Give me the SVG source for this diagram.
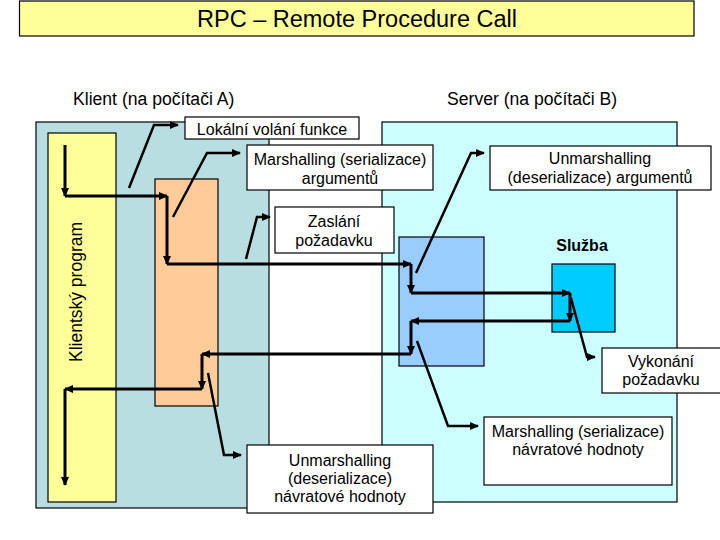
<svg xmlns="http://www.w3.org/2000/svg" width="720" height="540" viewBox="0 0 720 540">
<defs>
<style>
text{font-family:"Liberation Sans",Arial,sans-serif;fill:#000}
.lbl{font-size:16px;text-anchor:middle}
.box{stroke:#000;stroke-width:1.2}
.main{stroke:#000;stroke-width:3;fill:none;marker-end:url(#ah)}
.call{stroke:#000;stroke-width:2.5;fill:none;stroke-linejoin:miter;marker-end:url(#ah)}
</style>
<marker id="ah" markerUnits="userSpaceOnUse" markerWidth="9" markerHeight="8" refX="8" refY="4" orient="auto">
<path d="M0,0 L9,4 L0,8 z" fill="#000"/>
</marker>
</defs>
<rect width="720" height="540" fill="#fff"/>

<g id="title">
<rect class="box" x="19.5" y="1" width="674.5" height="35" fill="#FFFF99"/>
<text x="357" y="27" font-size="23.5" text-anchor="middle">RPC – Remote Procedure Call</text>
</g>

<g id="client-heading"><text x="73" y="105" font-size="17.6">Klient (na počítači A)</text></g>
<g id="server-heading"><text x="447" y="105" font-size="17.6">Server (na počítači B)</text></g>

<g id="client">
<rect class="box" x="36" y="122" width="233" height="386" fill="#B9DEE2"/>
</g>
<g id="server">
<rect class="box" x="382" y="122" width="295" height="380" fill="#CCFFFF"/>
</g>
<g id="client-program">
<rect class="box" x="48" y="133" width="68" height="369" fill="#FFFF99"/>
<text transform="translate(82,292) rotate(-90)" font-size="17.5" text-anchor="middle">Klientský program</text>
</g>
<g id="client-stub">
<rect class="box" x="155" y="179" width="63" height="227" fill="#FFCC99"/>
</g>
<g id="server-stub">
<rect class="box" x="399" y="237" width="85" height="129" fill="#99CCFF"/>
</g>
<g id="sluzba">
<text x="582" y="251" font-size="16" font-weight="bold" text-anchor="middle">Služba</text>
<rect class="box" x="552" y="264" width="63" height="68" fill="#00CCFF"/>
</g>

<g id="lbl-lokalni">
<rect class="box" x="185" y="117" width="174" height="22" fill="#fff"/>
<text class="lbl" x="272" y="134.5">Lokální volání funkce</text>
</g>
<g id="lbl-marshalling-arg">
<rect class="box" x="247" y="145" width="186" height="45" fill="#fff"/>
<text class="lbl" x="340" y="165">Marshalling (serializace)</text>
<text class="lbl" x="340" y="184">argumentů</text>
</g>
<g id="lbl-zaslani">
<rect class="box" x="275" y="207" width="119" height="46" fill="#fff"/>
<text class="lbl" x="334" y="227">Zaslání</text>
<text class="lbl" x="334" y="246">požadavku</text>
</g>
<g id="lbl-unmarshalling-arg">
<rect class="box" x="490" y="146" width="221" height="44" fill="#fff"/>
<text class="lbl" x="600" y="164">Unmarshalling</text>
<text class="lbl" x="600" y="183">(deserializace) argumentů</text>
</g>
<g id="lbl-vykonani">
<rect class="box" x="602" y="348" width="125" height="45" fill="#fff"/>
<text class="lbl" x="661" y="367">Vykonání</text>
<text class="lbl" x="661" y="385">požadavku</text>
</g>
<g id="lbl-marshalling-ret">
<rect class="box" x="484" y="417" width="188" height="68" fill="#fff"/>
<text class="lbl" x="578" y="437">Marshalling (serializace)</text>
<text class="lbl" x="578" y="455">návratové hodnoty</text>
</g>
<g id="lbl-unmarshalling-ret">
<rect class="box" x="247" y="445" width="186" height="68" fill="#fff"/>
<text class="lbl" x="340" y="466">Unmarshalling</text>
<text class="lbl" x="340" y="484">(deserializace)</text>
<text class="lbl" x="340" y="502">návratové hodnoty</text>
</g>

<g id="connectors">
<line class="main" x1="65" y1="145" x2="65" y2="196"/>
<line class="main" x1="65" y1="196" x2="167" y2="196"/>
<line class="main" x1="167" y1="196" x2="167" y2="264"/>
<line class="main" x1="167" y1="264" x2="411" y2="264"/>
<line class="main" x1="411" y1="264" x2="411" y2="293"/>
<line class="main" x1="411" y1="293" x2="570" y2="293"/>
<line class="main" x1="570" y1="293" x2="570" y2="321"/>
<line class="main" x1="570" y1="321" x2="411" y2="321"/>
<line class="main" x1="411" y1="321" x2="411" y2="354"/>
<line class="main" x1="411" y1="354" x2="202" y2="354"/>
<line class="main" x1="202" y1="354" x2="202" y2="389"/>
<line class="main" x1="202" y1="389" x2="65" y2="389"/>
<line class="main" x1="65" y1="389" x2="65" y2="485"/>

<polyline class="call" points="129,188 154,125 178,125"/>
<polyline class="call" points="173,217 207,153 240,153"/>
<polyline class="call" points="246,259 257,217 270,217"/>
<polyline class="call" points="416,273 471,153 484,153"/>
<polyline class="call" points="571,298 587,357 595,357"/>
<polyline class="call" points="417,341 448,426 478,426"/>
<polyline class="call" points="208,373 224,455 241,455"/>
</g>
</svg>
